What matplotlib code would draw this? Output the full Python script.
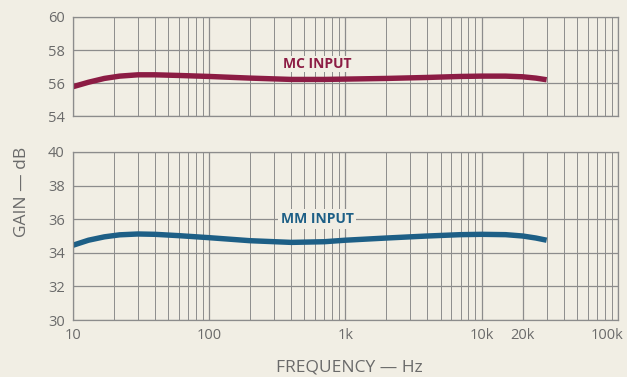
import matplotlib.pyplot as plt
import matplotlib.transforms as mtransforms
from matplotlib.ticker import LogLocator, NullFormatter

freq = [10, 13, 17, 22, 30, 40, 60, 100, 200, 400, 700, 1000, 2000, 4000, 7000, 10000, 15000, 20000, 25000, 30000]
mc_gain = [55.78, 56.05, 56.28, 56.42, 56.5, 56.5, 56.46, 56.4, 56.3, 56.22, 56.22, 56.24, 56.28, 56.34, 56.4, 56.42, 56.42, 56.38, 56.3, 56.2]
mm_gain = [34.45, 34.75, 34.95, 35.07, 35.12, 35.1, 35.02, 34.9, 34.72, 34.62, 34.66, 34.75, 34.88, 35.0, 35.08, 35.1, 35.08, 35.0, 34.88, 34.75]

x_ticks = [10, 100, 1000, 10000, 20000, 100000]
x_labels = ["10", "100", "1k", "10k", "20k", "100k"]

paper = "#f1eee4"
grid_c = "#8c8c8c"
text_c = "#6a6a6a"
mc_color = "#8c1c44"
mm_color = "#1d5f86"

plt.rcParams["font.family"] = ["Open Sans", "DejaVu Sans"]

fig = plt.figure(figsize=(6.27, 3.77), dpi=100, facecolor=paper)
ax_top = fig.add_axes([0.1164, 0.692, 0.869, 0.263])
ax_bot = fig.add_axes([0.1164, 0.151, 0.869, 0.446])


def style(ax, ylo, yhi):
    ax.set_facecolor(paper)
    ax.set_xscale("log")
    ax.set_xlim(10, 100000)
    ax.set_ylim(ylo, yhi)
    ax.set_yticks(range(ylo, yhi + 1, 2))
    ax.xaxis.set_major_locator(LogLocator(base=10, numticks=10))
    ax.xaxis.set_minor_locator(LogLocator(base=10, subs=range(2, 10), numticks=20))
    ax.xaxis.set_minor_formatter(NullFormatter())
    ax.grid(True, which="major", color=grid_c, linewidth=0.9)
    ax.grid(True, which="minor", axis="x", color=grid_c, linewidth=0.7)
    for s in ax.spines.values():
        s.set_color(grid_c)
        s.set_linewidth(0.9)
    ax.tick_params(which="both", length=0, colors=text_c, labelsize=10.5, pad=6)


style(ax_top, 54, 60)
style(ax_bot, 30, 40)
ax_top.set_xticklabels([])
ax_bot.set_xticks(x_ticks)
ax_bot.set_xticklabels(x_labels)

# nudge the last label so it stays inside the figure
last = ax_bot.get_xticklabels()[-1]
last.set_transform(last.get_transform() + mtransforms.ScaledTranslation(-8 / 72, 0, fig.dpi_scale_trans))

ax_top.plot(freq, mc_gain, color=mc_color, linewidth=3.9, solid_capstyle="butt")
ax_bot.plot(freq, mm_gain, color=mm_color, linewidth=3.9, solid_capstyle="butt")

ax_top.text(620, 57.15, "MC INPUT", color=mc_color, fontsize=10, fontweight="bold",
            ha="center", va="center", bbox=dict(facecolor=paper, edgecolor="none", pad=1))
ax_bot.text(620, 36.0, "MM INPUT", color=mm_color, fontsize=10, fontweight="bold",
            ha="center", va="center", bbox=dict(facecolor=paper, edgecolor="none", pad=2))

fig.text(0.035, 0.49, "GAIN — dB", rotation=90, color=text_c, fontsize=12.5,
         ha="center", va="center")
fig.text(0.558, 0.025, "FREQUENCY — Hz", color=text_c, fontsize=12.5,
         ha="center", va="center")

fig.savefig("out.png", dpi=100, facecolor=paper)
